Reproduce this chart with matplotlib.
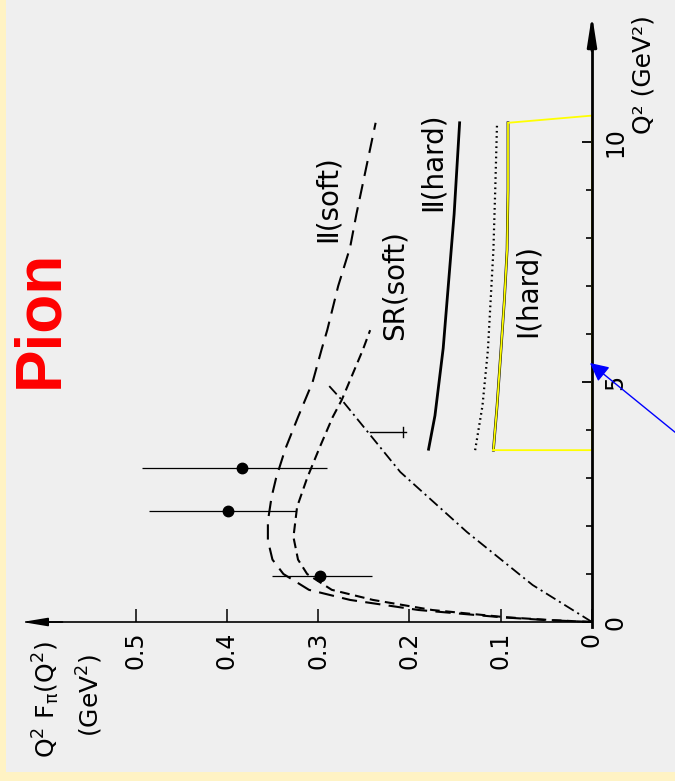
import matplotlib
matplotlib.use("Agg")
import matplotlib.pyplot as plt
from matplotlib.patches import Rectangle

plt.rcParams["font.family"] = ["DejaVu Sans"]
plt.rcParams["mathtext.default"] = "regular"
plt.rcParams["lines.scale_dashes"] = False

# ---------------- data: Q^2 [GeV^2] and Q^2 F_pi(Q^2) [GeV^2] ----------------
q2_ii_soft = [0, 0.04, 0.1, 0.25, 0.46, 0.67, 1.0, 1.3, 1.7, 2.1, 2.6, 3.0,
              3.6, 4.27, 5.0, 5.69, 6.08, 7.0, 7.8, 8.5, 10.4]
f_ii_soft = [0, 0.05, 0.1, 0.19, 0.265, 0.31, 0.338, 0.35, 0.355, 0.355,
             0.351, 0.346, 0.336, 0.322, 0.306, 0.296, 0.29, 0.278, 0.265,
             0.258, 0.237]

q2_sr_soft = [0, 0.04, 0.1, 0.25, 0.46, 0.67, 1.0, 1.3, 1.77, 2.4, 3.0, 3.65,
              4.27, 4.63, 5.67, 6.08]
f_sr_soft = [0, 0.045, 0.095, 0.175, 0.24, 0.285, 0.312, 0.322, 0.327, 0.323,
             0.312, 0.298, 0.284, 0.274, 0.251, 0.243]

q2_dashdot = [0, 0.77, 1.875, 3.125, 4.625, 4.94]
f_dashdot = [0, 0.065, 0.137, 0.21, 0.274, 0.289]

q2_ii_hard = [3.6, 4.3, 5.7, 7.1, 8.5, 10.4]
f_ii_hard = [0.179, 0.172, 0.163, 0.157, 0.151, 0.145]

q2_dotted = [3.58, 4.5, 5.67, 7.75, 9.0, 10.4]
f_dotted = [0.128, 0.120, 0.114, 0.108, 0.106, 0.104]

q2_i_hard = [3.58, 4.5, 5.67, 6.7, 7.75, 9.0, 10.4]
f_i_hard = [0.108, 0.104, 0.0997, 0.096, 0.093, 0.092, 0.092]

q2_data = [0.965, 2.31, 3.20]
f_data = [0.298, 0.399, 0.383]
f_data_lo = [0.241, 0.324, 0.290]
f_data_hi = [0.350, 0.485, 0.493]

f_ticks = [0, 0.1, 0.2, 0.3, 0.4, 0.5]
f_tick_labels = ["0", "0.1", "0.2", "0.3", "0.4", "0.5"]
q2_major = [0, 5, 10]
q2_major_labels = ["0", "5", "10"]
q2_minor = [1, 2, 3, 4, 6, 7, 8, 9]

# ---------------- layout (pixels) ----------------
W, H = 675, 781
X0, Y0 = 592, 622          # pixel position of the origin
PX_PER_F = 913             # pixels per unit of Q^2 F
PX_PER_Q2 = 48             # pixels per GeV^2


def to_data(xp, yp):
    return (X0 - xp) / PX_PER_F, (Y0 - yp) / PX_PER_Q2


def fig_xy(xp, yp):
    return xp / W, 1 - yp / H


fig = plt.figure(figsize=(W / 100, H / 100), dpi=100)
fig.patch.set_facecolor("#FFF3C4")
fig.add_artist(Rectangle((6 / W, (H - 772) / H), 1 - 6 / W, 772 / H,
                         transform=fig.transFigure, facecolor="#EFEFEF",
                         edgecolor="none", zorder=-10))

ax = fig.add_axes([0, 0, 1, 1])
ax.set_facecolor("none")
ax.set_xlim(X0 / PX_PER_F, (X0 - W) / PX_PER_F)
ax.set_ylim((Y0 - H) / PX_PER_Q2, Y0 / PX_PER_Q2)

# axes drawn through the origin
for s in ["top", "left"]:
    ax.spines[s].set_visible(False)
ax.spines["bottom"].set_position(("data", 0))
ax.spines["bottom"].set_bounds(0, 0.62)
ax.spines["bottom"].set_linewidth(1.2)
ax.spines["right"].set_position(("data", 0))
ax.spines["right"].set_bounds(-0.1, 12.3)
ax.spines["right"].set_linewidth(2.0)
ax.xaxis.tick_bottom()
ax.yaxis.tick_right()

ax.set_xticks(f_ticks)
ax.set_xticklabels(f_tick_labels)
ax.set_yticks(q2_major)
ax.set_yticklabels(q2_major_labels)
ax.set_yticks(q2_minor, minor=True)
ax.tick_params(axis="x", direction="in", length=9.4, width=1.1, pad=7,
               labelsize=17, labelrotation=90)
ax.tick_params(axis="y", which="major", direction="in", length=7, width=1.3,
               pad=8, labelsize=17, labelrotation=90)
ax.tick_params(axis="y", which="minor", direction="in", length=4.3, width=1.2)
for lab in ax.get_yticklabels():
    lab.set_va("center")

# arrow heads on both axes
ax.annotate("", xy=(0, 12.65), xytext=(0, 11.9),
            arrowprops=dict(arrowstyle="-|>,head_length=1.8,head_width=0.28",
                            lw=2, color="k", mutation_scale=10,
                            shrinkA=0, shrinkB=0))
ax.annotate("", xy=(0.624, 0), xytext=(0.58, 0),
            arrowprops=dict(arrowstyle="-|>,head_length=1.5,head_width=0.25",
                            lw=1.2, color="k", mutation_scale=10,
                            shrinkA=0, shrinkB=0))

# model curves
ax.plot(f_ii_soft, q2_ii_soft, color="k", lw=1.5, ls=(0, (11, 6)))
ax.plot(f_sr_soft, q2_sr_soft, color="k", lw=1.5, ls=(0, (7, 4)))
ax.plot(f_dashdot, q2_dashdot, color="k", lw=1.3, ls=(0, (8, 3, 1.5, 3)))
ax.plot(f_ii_hard, q2_ii_hard, color="k", lw=2.0)
ax.plot(f_dotted, q2_dotted, color="k", lw=1.6, ls=(0, (1.2, 2.5)))
ax.plot(f_i_hard, q2_i_hard, color="k", lw=2.0)

# highlighted region between the I(hard) curve and the Q^2 axis
q2_top = q2_i_hard[-1] + 0.15
ax.plot(f_i_hard + [0, 0, f_i_hard[0]],
        q2_i_hard + [q2_top, q2_i_hard[0], q2_i_hard[0]],
        color="#FFFF00", lw=1.3, solid_joinstyle="miter")

# data points
f_err = [[f - lo for f, lo in zip(f_data, f_data_lo)],
         [hi - f for f, hi in zip(f_data, f_data_hi)]]
ax.errorbar(f_data, q2_data, xerr=f_err, fmt="o", color="k", ms=7.5,
            elinewidth=0.9, capsize=0)

# leader mark next to SR(soft)
ax.plot([to_data(370, 432)[0], to_data(406, 432)[0]],
        [to_data(370, 432)[1]] * 2, color="k", lw=1.0)
ax.plot([to_data(403, 427)[0]] * 2,
        [to_data(403, 427)[1], to_data(403, 437)[1]], color="k", lw=1.0)

# blue pointer arrow
ax.annotate("", xy=to_data(590, 363), xytext=to_data(676, 433),
            arrowprops=dict(arrowstyle="-|>,head_length=0.7,head_width=0.35",
                            color="#0000FF", lw=1.0, mutation_scale=16,
                            shrinkA=0, shrinkB=0))

# curve labels
lab_kw = dict(rotation=90, ha="center", va="center", fontsize=20,
              transform=ax.transAxes)
ax.text(*fig_xy(328, 199), "Ⅱ(soft)", **lab_kw)
ax.text(*fig_xy(395, 285), "SR(soft)", **lab_kw)
ax.text(*fig_xy(433, 162), "Ⅱ(hard)", **lab_kw)
ax.text(*fig_xy(528, 290), "Ⅰ(hard)", **lab_kw)

# axis titles
ax.text(*fig_xy(643, 75), "Q² (GeV²)", rotation=90, ha="center", va="center",
        fontsize=18, transform=ax.transAxes)
ax.text(*fig_xy(46, 700), r"Q$^2$ F$_{\pi}$(Q$^2$)", rotation=90, ha="center",
        va="center", fontsize=18, transform=ax.transAxes)
ax.text(*fig_xy(90, 695), r"(GeV$^2$)", rotation=90, ha="center",
        va="center", fontsize=18, transform=ax.transAxes)

# title
ax.text(*fig_xy(40, 319), "Pion", rotation=90, ha="center", va="center",
        fontsize=46, fontweight="bold", color="#FF0000",
        family=["Liberation Sans", "DejaVu Sans"], transform=ax.transAxes)

fig.savefig("out.png", dpi=100)
